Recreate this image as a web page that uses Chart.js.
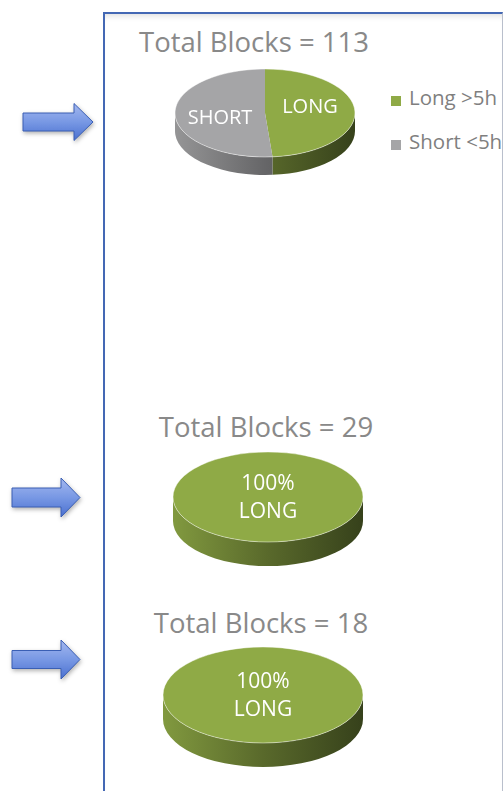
<!DOCTYPE html>
<html>
<head>
<meta charset="utf-8">
<script src="https://cdn.jsdelivr.net/npm/chart.js@4.4.1/dist/chart.umd.min.js"></script>
<style>
  body { margin: 0; width: 504px; height: 791px; position: relative; overflow: hidden; background: #fff; font-family: "Open Sans", sans-serif; }
  #frame { position: absolute; left: 103px; top: 12px; width: 397px; height: 777px;
           border-left: 2px solid #4468b4; border-top: 2px solid #4468b4;
           border-right: 1px solid #b9bfcc; border-bottom: 1px solid #b4c4e4;
           box-shadow: inset 0 7px 6px -5px rgba(0,0,0,0.13); }
  .title { position: absolute; width: 300px; text-align: center; font-size: 27.5px; line-height: 30px; color: #898989; white-space: nowrap; }
  .pie { position: absolute; }
  .arrow { position: absolute; left: 0; top: 0; overflow: visible; filter: drop-shadow(1px 2px 2px rgba(0,0,0,0.3)); }
  .legend-item { position: absolute; left: 391px; font-size: 20.5px; line-height: 24px; color: #7f7f7f; white-space: nowrap; }
  .legend-item span { display: inline-block; width: 10px; height: 10px; margin-right: 8px; vertical-align: -1px; }
</style>
</head>
<body>
<div id="frame"></div>

<svg class="arrow" width="504" height="791">
  <defs>
    <linearGradient id="arrowFill" x1="0" y1="0" x2="0" y2="1">
      <stop offset="0" stop-color="#a4b8ef"/>
      <stop offset="0.5" stop-color="#7898e4"/>
      <stop offset="1" stop-color="#4a70d0"/>
    </linearGradient>
  </defs>
  <g id="arrows" fill="url(#arrowFill)" stroke="#3a5fb4" stroke-width="1"></g>
</svg>

<div class="title" id="title1" style="left:104px; top:27px;"></div>
<div class="title" id="title2" style="left:116px; top:412px;"></div>
<div class="title" id="title3" style="left:111px; top:608px;"></div>

<canvas class="pie" id="pie1" width="240" height="130" style="left:150px; top:60px;"></canvas>
<canvas class="pie" id="pie2" width="240" height="135" style="left:150px; top:445px;"></canvas>
<canvas class="pie" id="pie3" width="240" height="135" style="left:150px; top:640px;"></canvas>

<div id="legend"></div>

<script>
// slices and values
const sliceNames = ['LONG', 'SHORT'];
const legendLabels = ['Long >5h', 'Short <5h'];
const sliceColors = ['#8faa46', '#a5a5a7'];
const blocksAll = [55, 58];
const blocksMid = [29, 0];
const blocksLow = [18, 0];

function shade(hex, f) {
    const n = parseInt(hex.slice(1), 16);
    const r = Math.round(((n >> 16) & 255) * f);
    const g = Math.round(((n >> 8) & 255) * f);
    const b = Math.round((n & 255) * f);
    return `rgb(${r},${g},${b})`;
}

// flattens the chart's pie into a tilted disc and adds the front side
const tiltedPie = {
    id: 'tiltedPie',
    beforeDatasetsDraw(chart, args, opts) {
        const arcs = chart.getDatasetMeta(0).data;
        const ctx = chart.ctx;
        const { cx, cy, rx, ry, depth } = opts;
        const first = arcs[0];
        ctx.save();
        arcs.forEach((arc, i) => {
            const color = chart.data.datasets[0].backgroundColor[i];
            const grad = ctx.createLinearGradient(cx - rx, 0, cx + rx, 0);
            grad.addColorStop(0, shade(color, 0.9));
            grad.addColorStop(0.5, shade(color, 0.62));
            grad.addColorStop(1, shade(color, 0.38));
            for (const k of [-2 * Math.PI, 0, 2 * Math.PI]) {
                const a = Math.max(arc.startAngle, k);
                const b = Math.min(arc.endAngle, k + Math.PI);
                if (b - a < 1e-4) continue;
                ctx.beginPath();
                ctx.ellipse(cx, cy + depth, rx, ry, 0, a, b);
                ctx.ellipse(cx, cy, rx, ry, 0, b, a, true);
                ctx.closePath();
                ctx.fillStyle = grad;
                ctx.fill();
            }
        });
        ctx.translate(cx, cy);
        ctx.scale(rx / first.outerRadius, ry / first.outerRadius);
        ctx.translate(-first.x, -first.y);
    },
    afterDatasetsDraw(chart, args, opts) {
        const ctx = chart.ctx;
        ctx.restore();
        const { cx, cy, rx, ry, fontSize } = opts;
        ctx.beginPath();
        ctx.ellipse(cx, cy, rx, ry, 0, 0, 2 * Math.PI);
        ctx.strokeStyle = 'rgba(255,255,255,0.45)';
        ctx.lineWidth = 1;
        ctx.stroke();

        const values = chart.data.datasets[0].data;
        const total = values.reduce((s, v) => s + v, 0);
        ctx.fillStyle = '#ffffff';
        ctx.font = `${fontSize}px "Open Sans"`;
        ctx.textAlign = 'center';
        ctx.textBaseline = 'middle';
        chart.getDatasetMeta(0).data.forEach((arc, i) => {
            if (!values[i]) return;
            const pct = Math.round(values[i] / total * 100);
            if (pct === 100) {
                ctx.fillText('100%', cx, cy - 13);
                ctx.fillText(sliceNames[i], cx, cy + 15);
                return;
            }
            const mid = (arc.startAngle + arc.endAngle) / 2;
            const x = cx + Math.cos(mid) * rx * 0.5;
            const y = cy + Math.sin(mid) * ry * 0.5 - (x - cx) * 0.1;
            ctx.fillText(sliceNames[i], x, y);
        });
    }
};

function makePie(id, values, geom) {
    new Chart(document.getElementById(id), {
        type: 'pie',
        data: {
            labels: legendLabels,
            datasets: [{
                data: values,
                backgroundColor: sliceColors,
                borderWidth: 0
            }]
        },
        options: {
            responsive: false,
            animation: false,
            events: [],
            plugins: {
                legend: { display: false },
                tooltip: { enabled: false },
                tiltedPie: geom
            }
        },
        plugins: [tiltedPie]
    });
}

function total(values) { return values.reduce((s, v) => s + v, 0); }

document.getElementById('title1').textContent = 'Total Blocks = ' + total(blocksAll);
document.getElementById('title2').textContent = 'Total Blocks = ' + total(blocksMid);
document.getElementById('title3').textContent = 'Total Blocks = ' + total(blocksLow);

makePie('pie1', blocksAll, { cx: 115, cy: 53, rx: 90, ry: 44, depth: 18, fontSize: 20 });
makePie('pie2', blocksMid, { cx: 118, cy: 52, rx: 95, ry: 45, depth: 24, fontSize: 21 });
makePie('pie3', blocksLow, { cx: 113, cy: 55, rx: 100, ry: 48, depth: 24, fontSize: 21 });

// legend
const legend = document.getElementById('legend');
legendLabels.forEach((label, i) => {
    const item = document.createElement('div');
    item.className = 'legend-item';
    item.style.top = (85 + i * 44) + 'px';
    item.innerHTML = `<span style="background:${sliceColors[i]}"></span>` + label;
    item.lastChild.textContent = label;
    legend.appendChild(item);
});

// arrows pointing at each pie
const arrows = [
    { x0: 23, x1: 74, x2: 93, cy: 122, shaft: 9, head: 18.5 },
    { x0: 12, x1: 61, x2: 80, cy: 497.5, shaft: 9.5, head: 19.5 },
    { x0: 12, x1: 61, x2: 80, cy: 659.5, shaft: 9, head: 19.5 }
];
const g = document.getElementById('arrows');
arrows.forEach(a => {
    const p = document.createElementNS('http://www.w3.org/2000/svg', 'polygon');
    p.setAttribute('points', [
        [a.x0, a.cy - a.shaft], [a.x1, a.cy - a.shaft], [a.x1, a.cy - a.head],
        [a.x2, a.cy], [a.x1, a.cy + a.head], [a.x1, a.cy + a.shaft], [a.x0, a.cy + a.shaft]
    ].map(q => q.join(',')).join(' '));
    g.appendChild(p);
});
</script>
</body>
</html>
